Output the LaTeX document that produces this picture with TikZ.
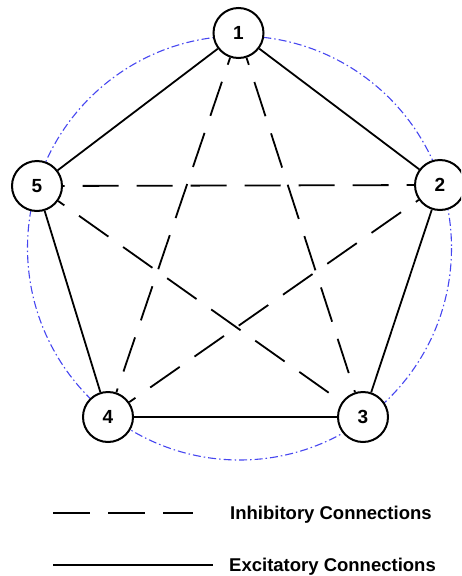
\documentclass[tikz,border=0pt]{standalone}
\usepackage{fontspec}
\setmainfont{Liberation Sans}
\definecolor{ringblue}{RGB}{70,70,240}
\begin{document}
\begin{tikzpicture}[x=1pt,y=-1pt,
  neuron/.style={circle,draw,line width=2pt,fill=white,minimum size=50pt,
    inner sep=0pt,font=\fontsize{19}{19}\selectfont\bfseries},
  excit/.style={line width=1.8pt},
  inhib/.style={line width=1.8pt,dash pattern=on 36pt off 18pt,dash phase=28.5pt},
  ring/.style={draw=ringblue,line width=1.1pt,
    dash pattern=on 8pt off 3pt on 1.5pt off 3pt},
  legendtext/.style={font=\fontsize{18.5}{18.5}\selectfont\bfseries,
    anchor=base west,inner sep=0pt}]
\useasboundingbox (0,0) rectangle (461,576);
\clip (0,0) rectangle (461,576);

% circle through the five neurons
\coordinate (ringc) at (239.5,248);
\draw[ring] (ringc) circle[radius=212];

% neurons
\node[neuron] (n1) at (238.5,33) {1};
\node[neuron] (n2) at (440,185) {2};
\node[neuron] (n3) at (363,417) {3};
\node[neuron] (n4) at (108,417) {4};
\node[neuron] (n5) at (37,186) {5};

% excitatory connections (outer ring)
\draw[excit] (n1) -- (n2);
\draw[excit] (n2) -- (n3);
\draw[excit] (n3) -- (n4);
\draw[excit] (n4) -- (n5);
\draw[excit] (n5) -- (n1);

% inhibitory connections (inner star)
\draw[inhib] (n1) -- (n4);
\draw[inhib] (n1) -- (n3);
\draw[inhib] (n2) -- (n5);
\draw[inhib] (n5) -- (n3);
\draw[inhib] (n4) -- (n2);

% legend
\coordinate (li1) at (53,513);
\coordinate (li2) at (193,513);
\coordinate (le1) at (53,565);
\coordinate (le2) at (213,565);
\draw[line width=1.8pt,dash pattern=on 37pt off 18pt] (li1) -- (li2);
\draw[excit] (le1) -- (le2);
\node[legendtext] (tinh) at (230,519) {Inhibitory Connections};
\node[legendtext] (texc) at (229,571) {Excitatory Connections};
\end{tikzpicture}
\end{document}
